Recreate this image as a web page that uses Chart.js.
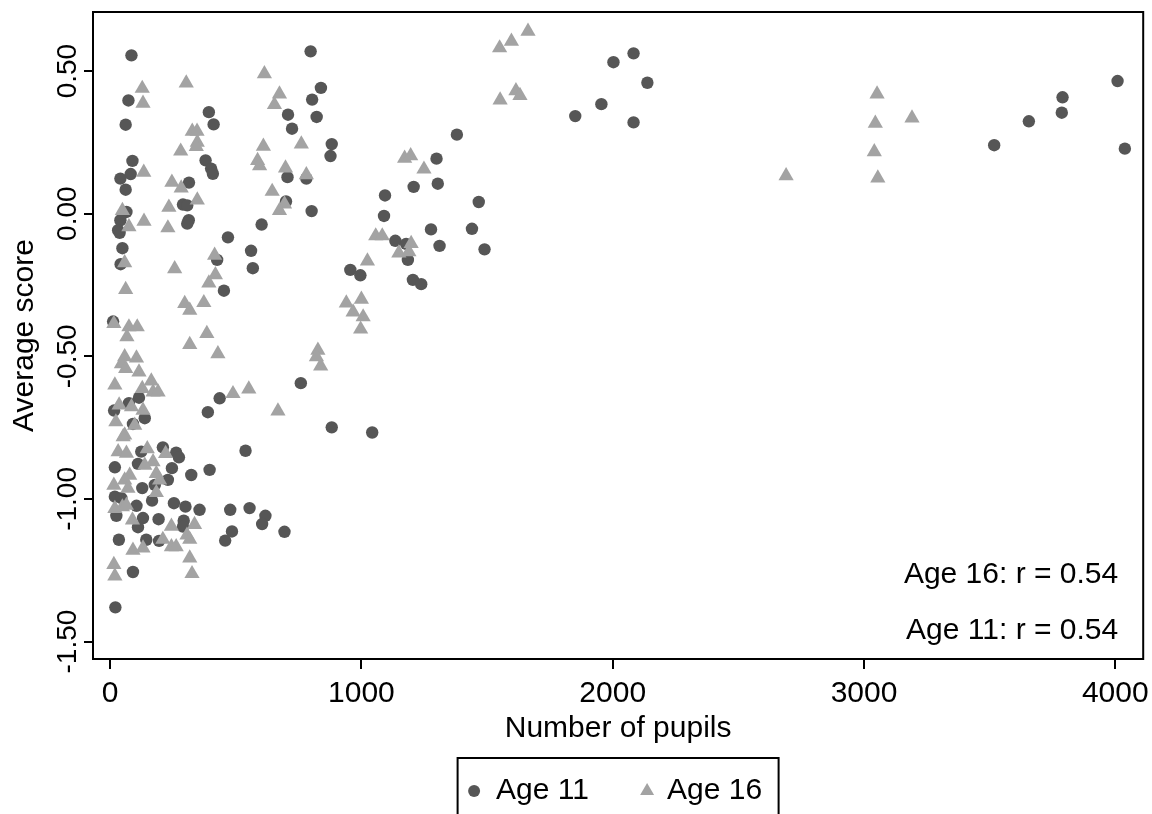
<!DOCTYPE html>
<html>
<head>
<meta charset="utf-8">
<title>Average score by number of pupils</title>
<script src="https://cdn.jsdelivr.net/npm/chart.js@4.4.1/dist/chart.umd.min.js"></script>
<style>
html,body{margin:0;padding:0;background:#fff;}
#wrap{width:1152px;height:814px;}
</style>
</head>
<body>
<div id="wrap"><canvas id="chart" width="1152" height="814"></canvas></div>
<script>
const FONT="'Liberation Sans', Arial, Helvetica, sans-serif";
const INK="#000";
const DARK="#565656";
const LIGHT="#a3a3a3";

const seriesNames=["Age 11","Age 16"];

const age11X=[85,73,62,393,412,89,82,41,62,380,402,409,314,290,307,313,307,65,41,32,708,724,706,700,603,
798,839,804,822,882,877,781,802,1380,1299,1208,1304,1094,1090,1277,1440,1467,
2083,2003,2138,1955,1851,2083,1490,
1135,1178,1311,1185,956,996,1205,1238,759,882,1043,
38,469,49,561,426,42,568,453,12,115,436,389,16,75,138,91,
539,210,263,274,124,19,111,246,323,396,230,128,178,19,45,167,105,25,131,111,193,254,300,356,293,290,478,555,618,605,694,485,458,144,195,35,91,21,
4009,3790,3787,3656,3518,4038];
const age11Y=[0.555,0.397,0.312,0.356,0.313,0.185,0.139,0.123,0.084,0.187,0.158,0.140,0.109,0.032,0.029,-0.023,-0.035,0.006,-0.023,-0.058,0.347,0.298,0.128,0.043,-0.038,
0.569,0.441,0.400,0.339,0.244,0.202,0.123,0.009,0.277,0.193,0.094,0.105,0.064,-0.008,-0.055,-0.053,0.041,
0.562,0.531,0.459,0.384,0.342,0.320,-0.125,
-0.095,-0.106,-0.113,-0.162,-0.197,-0.216,-0.232,-0.247,-0.594,-0.749,-0.767,
-0.067,-0.083,-0.121,-0.130,-0.162,-0.177,-0.191,-0.270,-0.378,-0.645,-0.647,-0.696,-0.690,-0.664,-0.717,-0.737,
-0.831,-0.819,-0.838,-0.854,-0.834,-0.889,-0.877,-0.892,-0.916,-0.898,-0.933,-0.962,-0.951,-0.992,-0.997,-1.006,-1.024,-1.059,-1.067,-1.099,-1.071,-1.015,-1.027,-1.038,-1.076,-1.097,-1.038,-1.032,-1.059,-1.088,-1.115,-1.114,-1.146,-1.143,-1.147,-1.143,-1.256,-1.380,
0.465,0.408,0.354,0.324,0.240,0.228];

const age16X=[128,131,303,327,346,347,343,281,134,246,283,347,234,49,135,75,230,614,674,654,610,587,595,698,645,694,674,
761,781,1172,1196,1249,
1663,1597,1550,1615,1631,1552,
1057,1083,1198,1149,1189,1024,940,1000,967,1007,997,827,821,838,
668,58,416,257,419,393,62,297,317,373,15,75,108,67,385,317,429,58,105,45,62,115,19,128,164,171,191,489,552,36,85,131,23,98,58,
52,32,65,148,221,171,138,78,58,184,197,15,71,184,19,49,65,89,244,336,306,317,210,91,131,244,263,317,15,19,326,
3052,3045,3191,3041,3055,2690];
const age16Y=[0.439,0.387,0.458,0.289,0.289,0.250,0.235,0.219,0.145,0.110,0.090,0.048,0.022,0.011,-0.027,-0.046,-0.050,0.490,0.419,0.382,0.236,0.186,0.168,0.160,0.078,0.034,0.011,
0.244,0.136,0.194,0.203,0.156,
0.639,0.604,0.581,0.431,0.414,0.398,
-0.078,-0.078,-0.105,-0.138,-0.134,-0.166,-0.313,-0.300,-0.345,-0.362,-0.405,-0.479,-0.502,-0.534,
-0.692,-0.172,-0.146,-0.193,-0.214,-0.243,-0.266,-0.315,-0.339,-0.312,-0.385,-0.397,-0.397,-0.432,-0.420,-0.459,-0.491,-0.502,-0.506,-0.526,-0.543,-0.555,-0.601,-0.613,-0.587,-0.625,-0.625,-0.631,-0.615,-0.671,-0.677,-0.689,-0.730,-0.742,-0.776,
-0.782,-0.835,-0.840,-0.824,-0.841,-0.870,-0.882,-0.917,-0.934,-0.911,-0.934,-0.952,-0.963,-0.978,-1.034,-1.028,-1.022,-1.074,-1.096,-1.090,-1.127,-1.142,-1.142,-1.180,-1.172,-1.168,-1.168,-1.207,-1.230,-1.270,-1.262,
0.419,0.317,0.335,0.217,0.125,0.133];

const xTicks=[0,1000,2000,3000,4000];
const yTicks=[-1.5,-1,-0.5,0,0.5];
const yTickLabels=["-1.50","-1.00","-0.50","0.00","0.50"];
const notes=["Age 16: r = 0.54","Age 11: r = 0.54"];

function toPoints(xs,ys){
return xs.map((x,i)=>({x:x,y:ys[i]}));
}

// frame, rotated y labels, r notes and the boxed legend
const decor={
id:"decor",
afterDraw(chart){
const {ctx,chartArea:a,scales}=chart;
ctx.save();
ctx.strokeStyle=INK;
ctx.lineWidth=2;
ctx.strokeRect(a.left,a.top,a.right-a.left,a.bottom-a.top);

ctx.fillStyle=INK;
ctx.font="28px "+FONT;
ctx.textAlign="center";
ctx.textBaseline="alphabetic";
yTicks.forEach((v,i)=>{
ctx.save();
ctx.translate(a.left-17,scales.y.getPixelForValue(v));
ctx.rotate(-Math.PI/2);
ctx.fillText(yTickLabels[i],0,0);
ctx.restore();
});

ctx.font="30px "+FONT;
ctx.textAlign="right";
ctx.textBaseline="middle";
ctx.fillText(notes[0],a.right-25,a.bottom-84);
ctx.fillText(notes[1],a.right-25,a.bottom-28);

const cx=(a.left+a.right)/2;
const ly=a.bottom+132;
ctx.lineWidth=2;
ctx.strokeRect(cx-160.5,a.bottom+99,321,80);
ctx.fillStyle=DARK;
ctx.beginPath();
ctx.arc(cx-144,ly,6,0,Math.PI*2);
ctx.fill();
ctx.fillStyle=LIGHT;
ctx.beginPath();
ctx.moveTo(cx+29,ly-8);
ctx.lineTo(cx+36,ly+4);
ctx.lineTo(cx+22,ly+4);
ctx.closePath();
ctx.fill();
ctx.fillStyle=INK;
ctx.textAlign="left";
ctx.fillText(seriesNames[0],cx-122,ly);
ctx.fillText(seriesNames[1],cx+49,ly);
ctx.restore();
}
};

let chart;

function initChart(){
const ctx=document.getElementById("chart").getContext("2d");
chart=new Chart(ctx,{
type:"scatter",
data:{
datasets:[{
label:seriesNames[0],
data:toPoints(age11X,age11Y),
pointStyle:"circle",
pointRadius:6.2,
backgroundColor:DARK,
borderWidth:0,
order:2
},{
label:seriesNames[1],
data:toPoints(age16X,age16Y),
pointStyle:"triangle",
pointRadius:8.8,
backgroundColor:LIGHT,
borderWidth:0,
order:1
}]
},
options:{
responsive:false,
devicePixelRatio:1,
animation:false,
layout:{padding:{top:12,right:7,bottom:55,left:0}},
plugins:{legend:{display:false},tooltip:{enabled:false}},
scales:{
x:{
type:"linear",
min:-68,
max:4111,
afterBuildTicks:s=>{s.ticks=xTicks.map(v=>({value:v}));},
afterFit:s=>{s.height=100;s.paddingLeft=0;s.paddingRight=0;},
border:{display:false},
grid:{drawOnChartArea:false,drawTicks:true,tickLength:10,color:INK,lineWidth:2},
ticks:{color:INK,font:{family:FONT,size:30},padding:7,maxRotation:0,autoSkip:false,callback:v=>String(v)},
title:{display:true,text:"Number of pupils",color:INK,font:{family:FONT,size:30},padding:{top:0,bottom:12}}
},
y:{
type:"linear",
min:-1.561,
max:0.707,
afterBuildTicks:s=>{s.ticks=yTicks.map(v=>({value:v}));},
afterFit:s=>{s.width=93;},
border:{display:false},
grid:{drawOnChartArea:false,drawTicks:true,tickLength:9,color:INK,lineWidth:2},
ticks:{display:false},
title:{display:true,text:"Average score",color:INK,font:{family:FONT,size:30},padding:{top:7,bottom:0}}
}
}
},
plugins:[decor]
});
}

initChart();
</script>
</body>
</html>
